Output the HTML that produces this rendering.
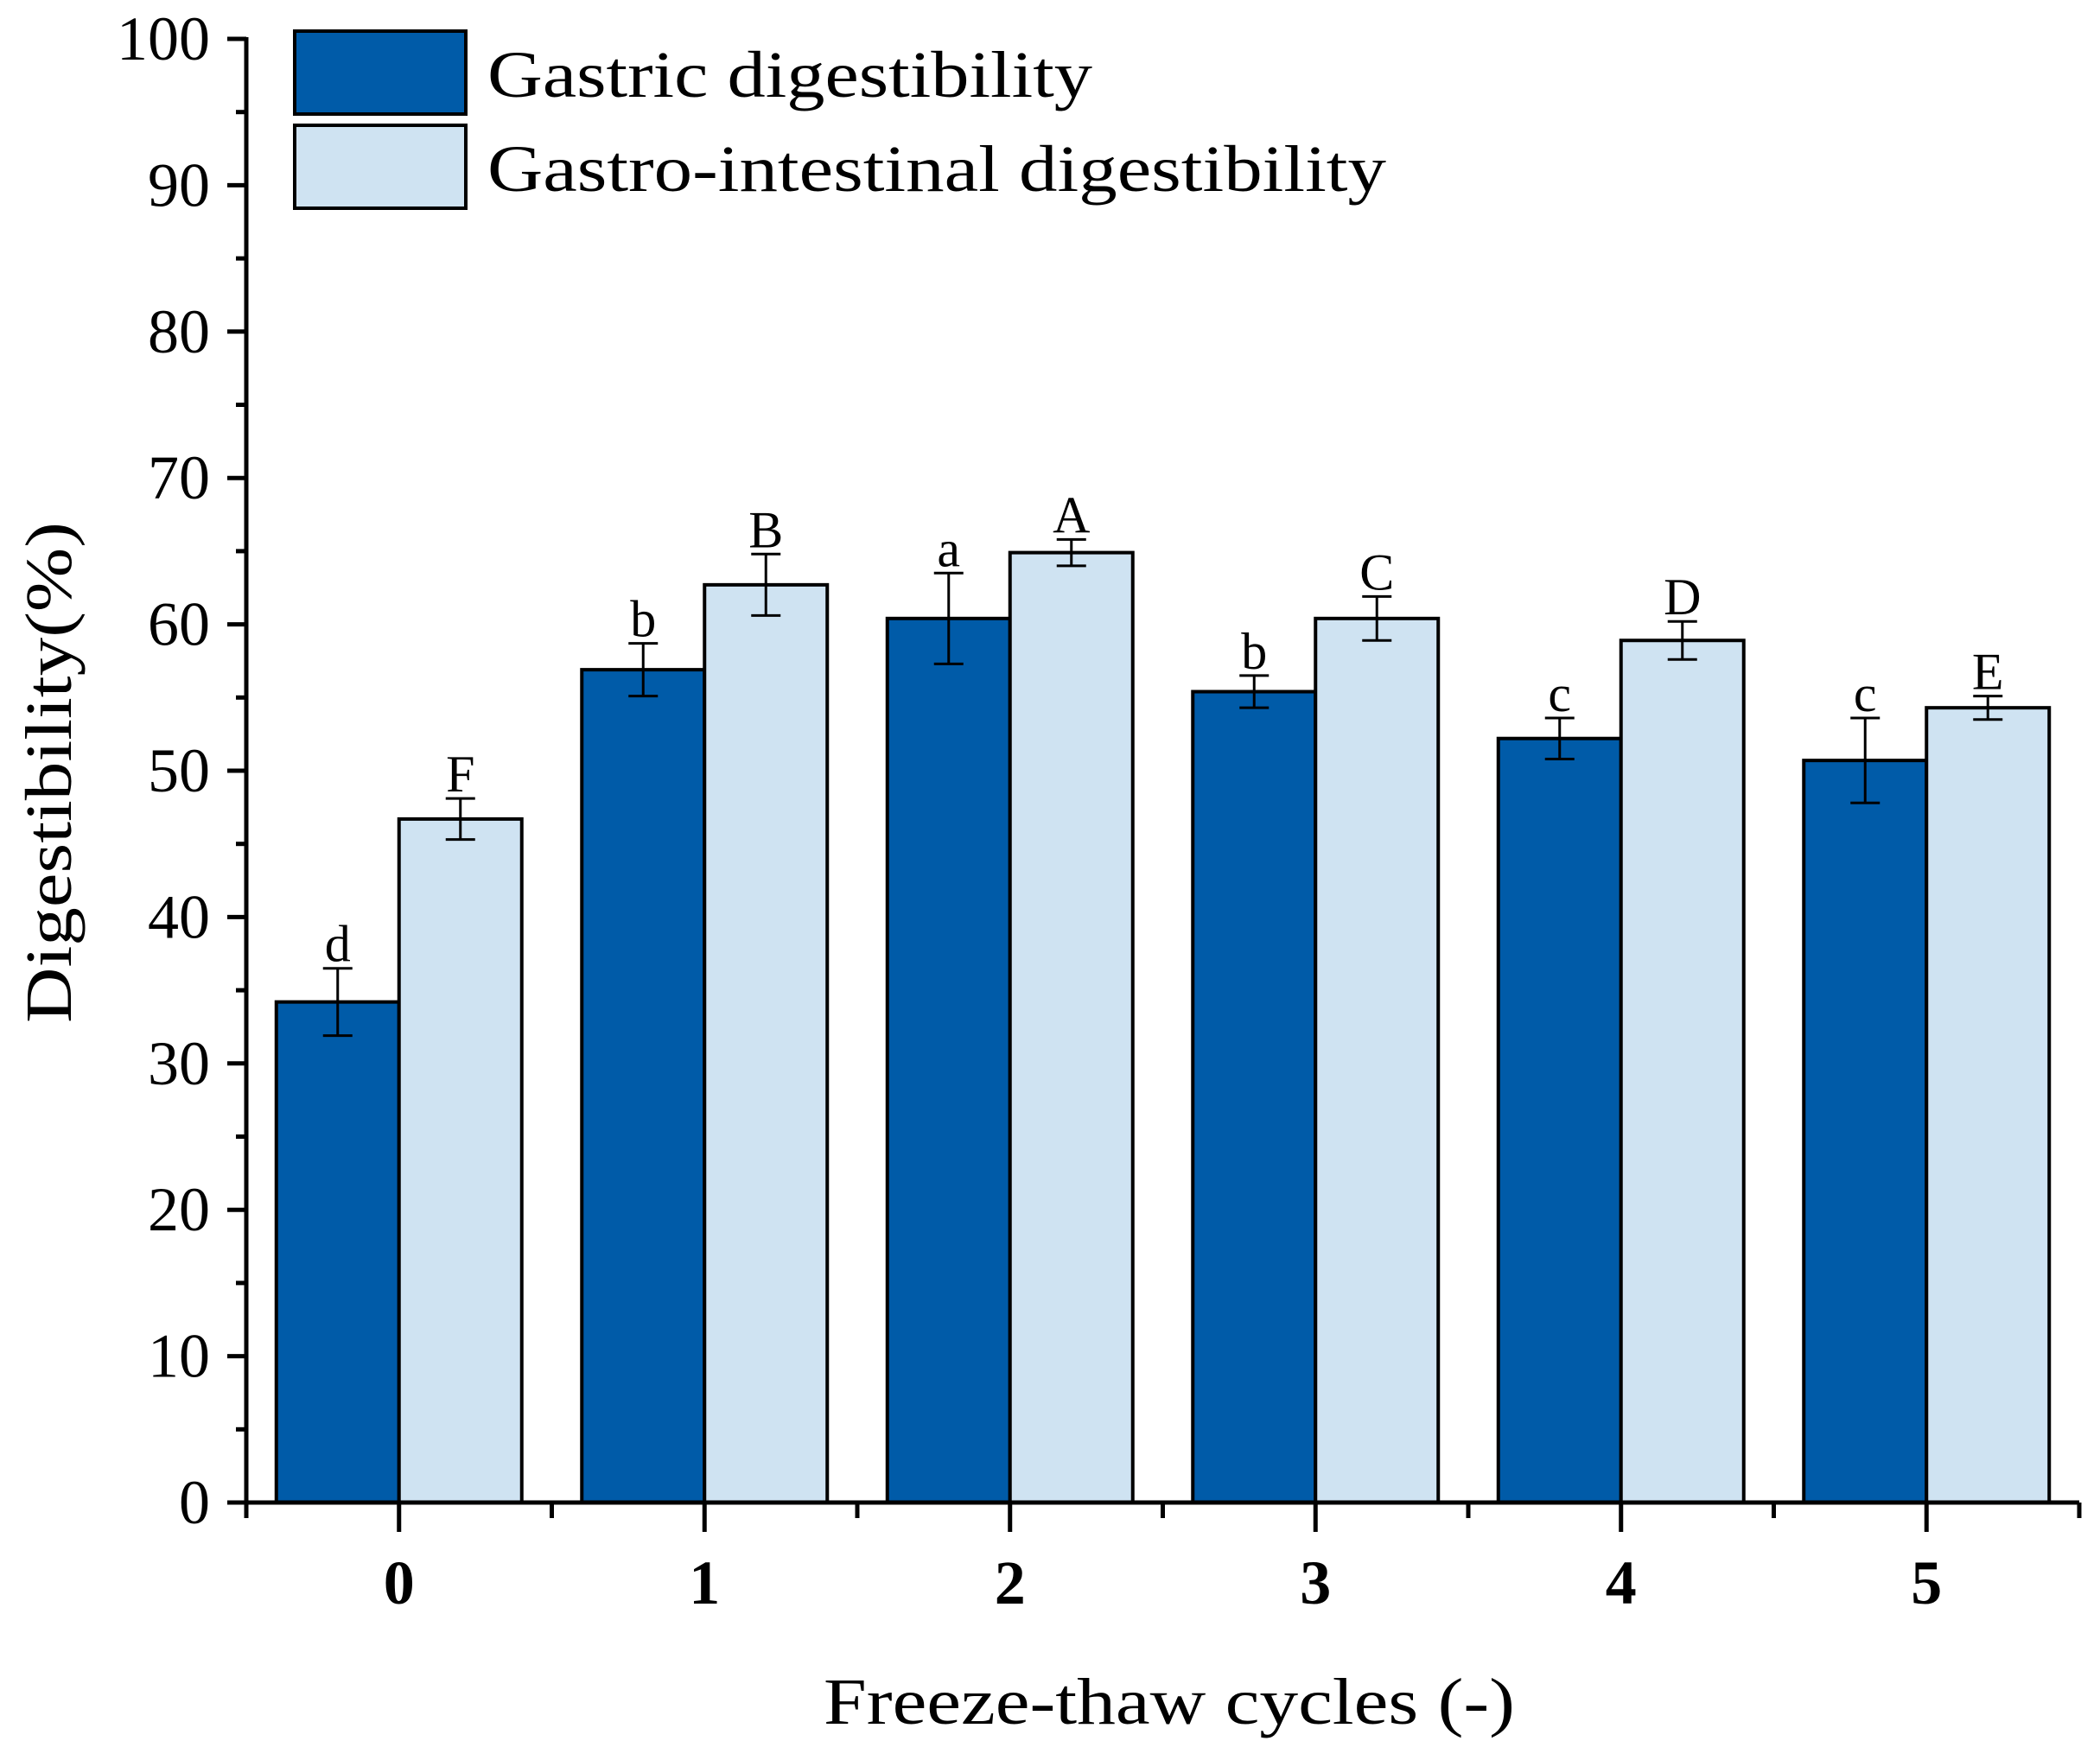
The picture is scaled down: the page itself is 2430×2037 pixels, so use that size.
<!DOCTYPE html>
<html><head><meta charset="utf-8"><style>html,body{margin:0;padding:0;background:#fff}svg{display:block}svg text{font-family:"Liberation Serif","Times New Roman",serif}</style></head>
<body>
<svg id="chart" width="2430" height="2037" viewBox="0 0 2430 2037" xmlns="http://www.w3.org/2000/svg">
<g id="plot"></g>
<g>
  <rect x="341" y="36" width="198" height="96" fill="#005ba8" stroke="#000" stroke-width="4"/>
  <text x="564" y="112" font-size="76" textLength="700" lengthAdjust="spacingAndGlyphs">Gastric digestibility</text>
  <rect x="341" y="145" width="198" height="96" fill="#cfe3f2" stroke="#000" stroke-width="4"/>
  <text x="564" y="221" font-size="76" textLength="1040" lengthAdjust="spacingAndGlyphs">Gastro-intestinal digestibility</text>
</g>
<text x="1353" y="1995" font-size="76" text-anchor="middle" textLength="800" lengthAdjust="spacingAndGlyphs">Freeze-thaw cycles (-)</text>
<text transform="translate(82,894) rotate(-90)" font-size="76" text-anchor="middle" textLength="580" lengthAdjust="spacingAndGlyphs">Digestibility(%)</text>
</svg>
<script>
const categories = ['0','1','2','3','4','5'];
const gastric = [34.2, 56.9, 60.4, 55.4, 52.2, 50.7];
const gastricErr = [2.3, 1.8, 3.1, 1.1, 1.4, 2.9];
const gastroInt = [46.7, 62.7, 64.9, 60.4, 58.9, 54.3];
const gastroIntErr = [1.4, 2.1, 0.9, 1.5, 1.3, 0.8];
const gastricLetters = ['d','b','a','b','c','c'];
const gastroLetters = ['F','B','A','C','D','E'];
const yTicks = [0,10,20,30,40,50,60,70,80,90,100];

const NS='http://www.w3.org/2000/svg';
const g=document.getElementById('plot');
const X0=285, X1=2406, Y0=1739, Y100=45;
const step=(X1-X0)/categories.length;
function xc(i){return X0+step*(i+0.5);}
function y(v){return Y0-(v/100)*(Y0-Y100);}
function mk(tag,attrs){const e=document.createElementNS(NS,tag);for(const k in attrs)e.setAttribute(k,attrs[k]);g.appendChild(e);return e;}
const bw=142;
function drawSeries(vals,errs,letters,offset,fill,name){
  vals.forEach((v,i)=>{
    const x=xc(i)+offset;
    const r=mk('rect',{x:x-bw/2,y:y(v),width:bw,height:Y0-y(v),fill:fill,stroke:'#000','stroke-width':4});
    
    
    const e=errs[i];
    const p=mk('path',{d:`M${x} ${y(v+e)}V${y(v-e)}M${x-17} ${y(v+e)}H${x+17}M${x-17} ${y(v-e)}H${x+17}`,stroke:'#000','stroke-width':3,fill:'none'});
    
    
    const t=mk('text',{x:x,y:y(v+e)-8,'font-size':60,'text-anchor':'middle'});
    t.textContent=letters[i];
    
    
  });
}
drawSeries(gastric,gastricErr,gastricLetters,-bw/2,'#005ba8','gastric');
drawSeries(gastroInt,gastroIntErr,gastroLetters,bw/2,'#cfe3f2','gastro-intestinal');
const ax=mk('path',{d:`M${X0} ${Y100-2}V${Y0}H${X1}`,stroke:'#000','stroke-width':5,fill:'none'});


yTicks.forEach(v=>{
  const t=mk('line',{x1:X0-22,x2:X0,y1:y(v),y2:y(v),stroke:'#000','stroke-width':5});
  
  
  if(v<100){const m=mk('line',{x1:X0-12,x2:X0,y1:y(v+5),y2:y(v+5),stroke:'#000','stroke-width':5});
    
    }
  const l=mk('text',{x:X0-42,y:y(v)+24,'font-size':72,'text-anchor':'end'});
  l.textContent=v;
  
  
});
categories.forEach((c,i)=>{
  const t=mk('line',{x1:xc(i),x2:xc(i),y1:Y0,y2:Y0+34,stroke:'#000','stroke-width':5});
  
  
  const l=mk('text',{x:xc(i),y:1856,'font-size':72,'font-weight':'bold','text-anchor':'middle'});
  l.textContent=c;
  
  
});
for(let i=0;i<=categories.length;i++){
  const m=mk('line',{x1:X0+step*i,x2:X0+step*i,y1:Y0,y2:Y0+18,stroke:'#000','stroke-width':5});
  
  
}
</script>
</body></html>
